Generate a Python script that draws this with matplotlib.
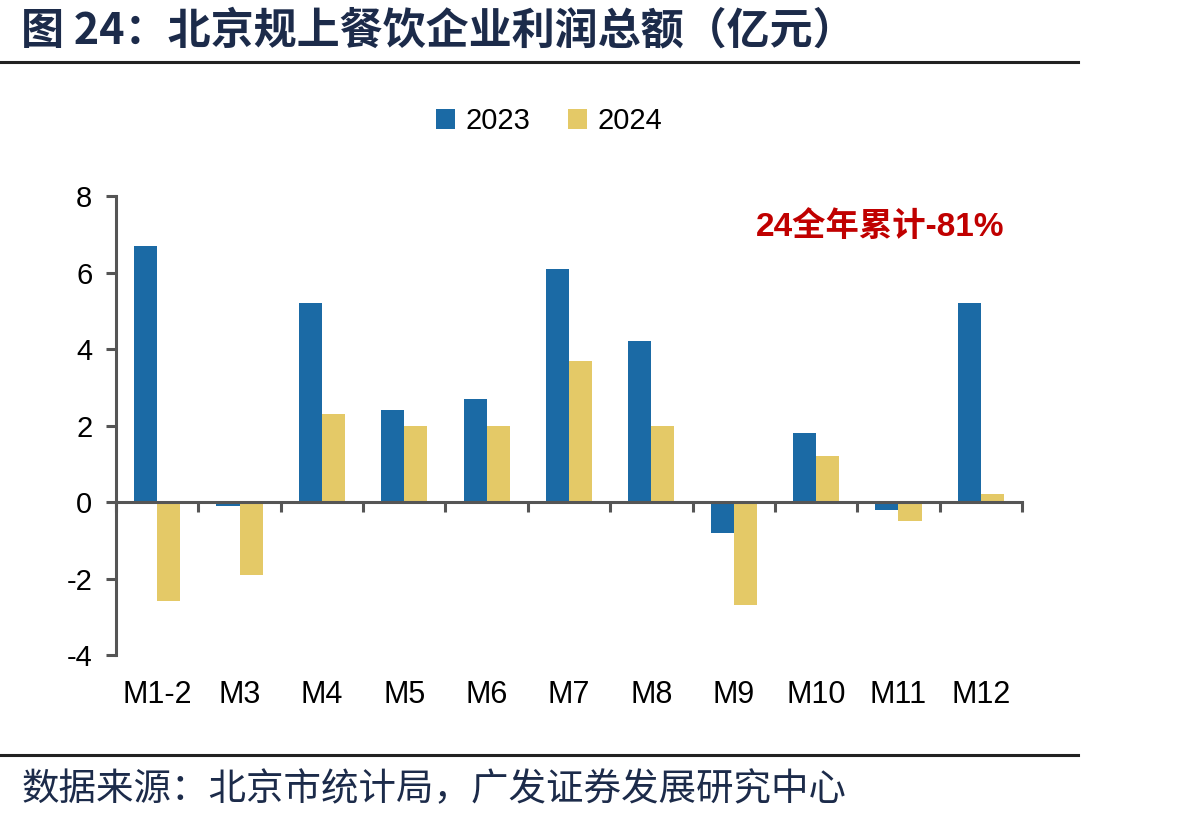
import matplotlib
matplotlib.use("Agg")
import matplotlib.pyplot as plt
import numpy as np

plt.rcParams['font.family'] = ['Liberation Sans', 'Noto Sans CJK SC', 'DejaVu Sans']

# data (亿元)
months = ["M1-2", "M3", "M4", "M5", "M6", "M7", "M8", "M9", "M10", "M11", "M12"]
profit_2023 = [6.7, -0.1, 5.2, 2.4, 2.7, 6.1, 4.2, -0.8, 1.8, -0.2, 5.2]
profit_2024 = [-2.6, -1.9, 2.3, 2.0, 2.0, 3.7, 2.0, -2.7, 1.2, -0.5, 0.2]
yticks = [-4, -2, 0, 2, 4, 6, 8]

c23 = "#1B6AA5"
c24 = "#E4C967"
axis_c = "#555555"

fig = plt.figure(figsize=(11.87, 8.23), dpi=100)
ax = fig.add_axes([0.0977, 0.2041, 0.7633, 0.5577])

x = np.arange(len(months))
w = 0.28
ax.bar(x - w / 2, profit_2023, w, color=c23, label="2023")
ax.bar(x + w / 2, profit_2024, w, color=c24, label="2024")

ax.set_xlim(-0.5, len(months) - 0.5)
ax.set_ylim(-4, 8)
ax.set_yticks(yticks)
ax.set_yticklabels([str(v) for v in yticks], fontsize=21)

for s in ["top", "right"]:
    ax.spines[s].set_visible(False)
ax.spines["left"].set_color(axis_c)
ax.spines["left"].set_linewidth(2.2)
ax.spines["bottom"].set_position(("data", 0))
ax.spines["bottom"].set_color(axis_c)
ax.spines["bottom"].set_linewidth(2.2)
ax.tick_params(axis="y", direction="out", length=7, width=2.2, color=axis_c, pad=10)
ax.set_xticks(np.arange(-0.5, len(months), 1.0))
ax.tick_params(axis="x", direction="out", length=7, width=2.2, color=axis_c, labelbottom=False)

# category labels at the bottom of the axes
for xi, m in zip(x, months):
    ax.text(xi, -0.055, m, transform=ax.get_xaxis_transform(), ha="center", va="top", fontsize=22)

ax.legend(loc="lower center", bbox_to_anchor=(0.478, 1.075), ncol=2, frameon=False,
          fontsize=21, handlelength=0.65, handleheight=0.65, handletextpad=0.35, columnspacing=1.3)

ax.text(0.981, 0.932, "24全年累计-81%", transform=ax.transAxes, ha="right", va="center",
        fontsize=24, fontweight="bold", color="#C00000",
        family=['Liberation Sans', 'Noto Sans CJK SC'])

# title, rules and source
fig.text(0.018, 0.963, "图 24：北京规上餐饮企业利润总额（亿元）", ha="left", va="center",
         fontsize=31, fontweight="bold", color="#1C2B4A",
         family=['Noto Sans CJK SC', 'DejaVu Sans'])
fig.add_artist(plt.Line2D([0, 0.908], [0.925, 0.925], color="#222222", linewidth=2.2))
fig.add_artist(plt.Line2D([0, 0.908], [0.083, 0.083], color="#222222", linewidth=2.2))
fig.text(0.018, 0.040, "数据来源：北京市统计局，广发证券发展研究中心", ha="left", va="center",
         fontsize=27, color="#1C2B4A", family=['Noto Sans CJK SC', 'DejaVu Sans'])

fig.savefig("out.png", dpi=100)
